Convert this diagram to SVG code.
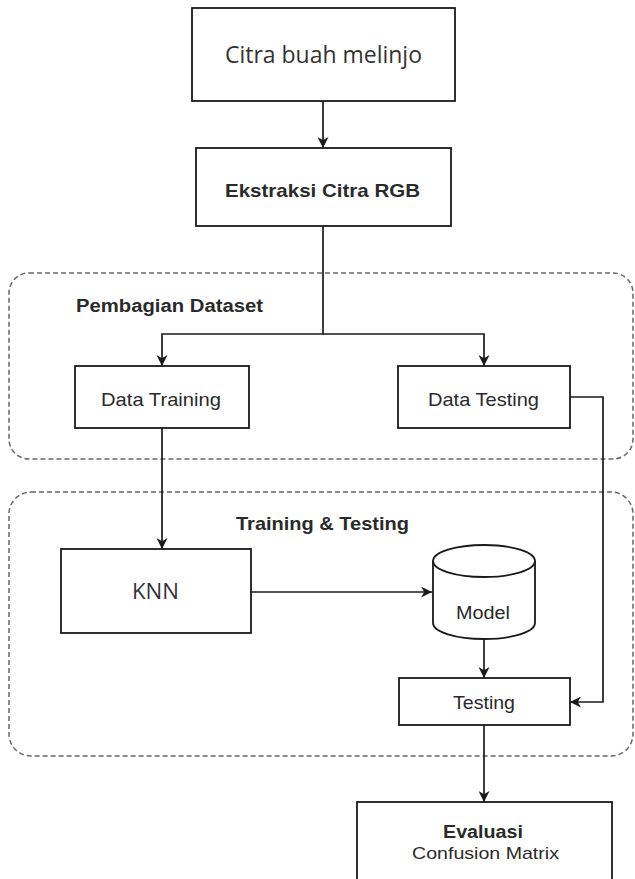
<svg xmlns="http://www.w3.org/2000/svg" width="635" height="879" viewBox="0 0 635 879">
  <style>
    .box { fill: #ffffff; stroke: #1a1a1a; stroke-width: 1.8; }
    .group { fill: none; stroke: #666666; stroke-width: 1.5; stroke-dasharray: 5 3; }
    .edge { fill: none; stroke: #1a1a1a; stroke-width: 1.7; }
    .lbl { font-family: "Liberation Sans", Arial, sans-serif; fill: #2a2a2a; text-anchor: middle; }
    .bold { font-weight: bold; }
    .soft { font-family: "Open Sans", "Noto Sans", sans-serif; fill: #333333; text-anchor: middle; }
  </style>
  <defs>
    <marker id="arrow" viewBox="0 0 10 10" refX="10" refY="5" markerWidth="11" markerHeight="11" markerUnits="userSpaceOnUse" orient="auto">
      <path d="M0,0 L10,5 L0,10 L3,5 z" fill="#1a1a1a"/>
    </marker>
  </defs>

  <!-- dashed grouping regions -->
  <g id="pembagian-dataset">
    <rect class="group" x="9" y="273" width="624" height="186" rx="20" ry="20"/>
    <text class="lbl bold" x="169.5" y="312" font-size="18" textLength="187" lengthAdjust="spacingAndGlyphs">Pembagian Dataset</text>
  </g>
  <g id="training-testing">
    <rect class="group" x="9" y="492" width="624" height="264" rx="22" ry="22"/>
    <text class="lbl bold" x="322.5" y="530" font-size="19" textLength="173" lengthAdjust="spacingAndGlyphs">Training &amp; Testing</text>
  </g>

  <!-- connectors -->
  <g id="connectors">
    <path class="edge" d="M323,101 V148" marker-end="url(#arrow)"/>
    <path class="edge" d="M323,226 V334 H162 V366" marker-end="url(#arrow)"/>
    <path class="edge" d="M323,334 H484 V366" marker-end="url(#arrow)"/>
    <path class="edge" d="M162,428 V549" marker-end="url(#arrow)"/>
    <path class="edge" d="M570,397 H603 V702 H570" marker-end="url(#arrow)"/>
    <path class="edge" d="M251,592 H432" marker-end="url(#arrow)"/>
    <path class="edge" d="M484,639 V678" marker-end="url(#arrow)"/>
    <path class="edge" d="M484,725 V802" marker-end="url(#arrow)"/>
  </g>

  <!-- nodes -->
  <g id="citra-buah">
    <rect class="box" x="192" y="8" width="263" height="93"/>
    <text class="soft" x="323.5" y="63" font-size="23" textLength="197" lengthAdjust="spacingAndGlyphs">Citra buah melinjo</text>
  </g>
  <g id="ekstraksi">
    <rect class="box" x="196" y="148" width="255" height="78"/>
    <text class="lbl bold" x="322.5" y="197" font-size="19" textLength="195" lengthAdjust="spacingAndGlyphs">Ekstraksi Citra RGB</text>
  </g>
  <g id="data-training">
    <rect class="box" x="75" y="366" width="174" height="62"/>
    <text class="lbl" x="161" y="406" font-size="19" textLength="120" lengthAdjust="spacingAndGlyphs">Data Training</text>
  </g>
  <g id="data-testing">
    <rect class="box" x="398" y="366" width="172" height="62"/>
    <text class="lbl" x="483.5" y="406" font-size="19" textLength="111" lengthAdjust="spacingAndGlyphs">Data Testing</text>
  </g>
  <g id="knn">
    <rect class="box" x="61" y="549" width="190" height="84"/>
    <text class="soft" x="155.5" y="599" font-size="22" textLength="47" lengthAdjust="spacingAndGlyphs">KNN</text>
  </g>
  <g id="model">
    <path class="box" d="M433,561 A51,16 0 0 1 535,561 V623 A51,16 0 0 1 433,623 Z"/>
    <path class="box" fill="none" d="M433,561 A51,16 0 0 0 535,561"/>
    <text class="lbl" x="483" y="619" font-size="18" textLength="54" lengthAdjust="spacingAndGlyphs">Model</text>
  </g>
  <g id="testing">
    <rect class="box" x="399" y="678" width="171" height="47"/>
    <text class="lbl" x="484" y="709" font-size="19" textLength="62" lengthAdjust="spacingAndGlyphs">Testing</text>
  </g>
  <g id="evaluasi">
    <rect class="box" x="357" y="802" width="255" height="90"/>
    <text class="lbl bold" x="483" y="838" font-size="18" textLength="80" lengthAdjust="spacingAndGlyphs">Evaluasi</text>
    <text class="lbl" x="485.5" y="859" font-size="17" textLength="147" lengthAdjust="spacingAndGlyphs">Confusion Matrix</text>
  </g>
</svg>
